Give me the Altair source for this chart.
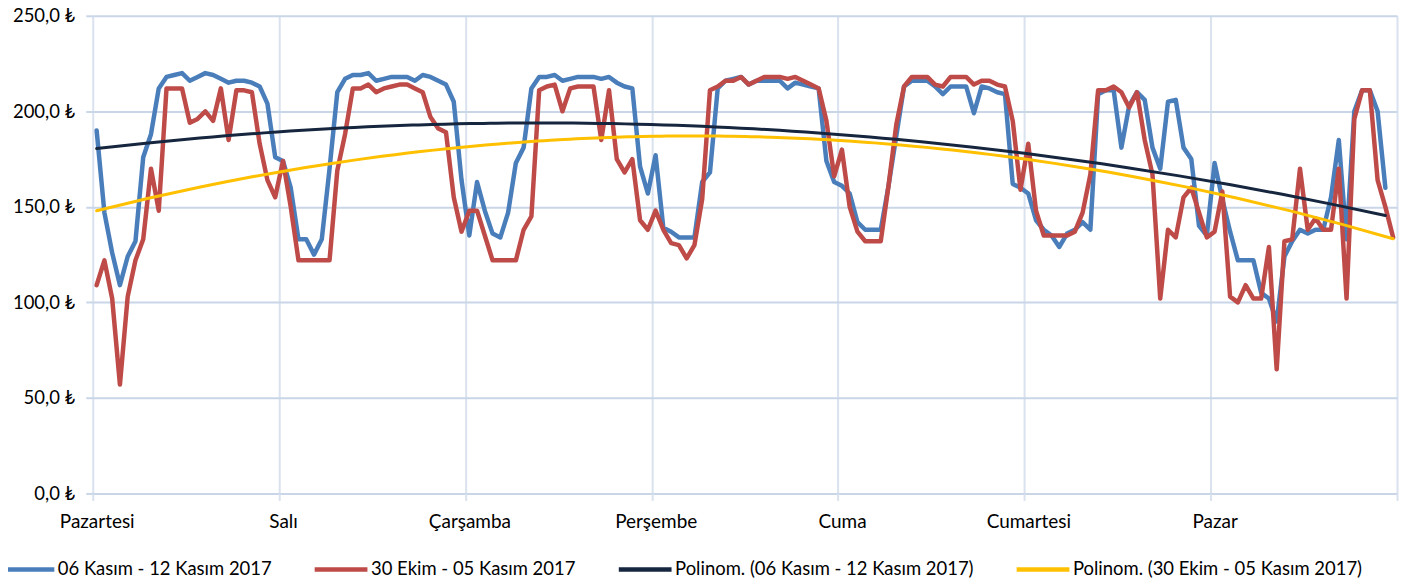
import altair as alt
import pandas as pd

days = ["Pazartesi", "Salı", "Çarşamba", "Perşembe", "Cuma", "Cumartesi", "Pazar"]
series_names = ["06 Kasım - 12 Kasım 2017", "30 Ekim - 05 Kasım 2017"]
trend_names = ["Polinom. (06 Kasım - 12 Kasım 2017)", "Polinom. (30 Ekim - 05 Kasım 2017)"]
colors = ["#4A7EBB", "#BE4B48", "#16263F", "#FFC000"]
y_ticks = [0, 50, 100, 150, 200, 250]

# hourly values, 06 Kasım - 12 Kasım 2017 (last hour missing)
week_nov06 = [
    190, 147, 126, 109, 124, 132, 176, 188, 212, 218, 219, 220, 216, 218, 220, 219, 217, 215, 216, 216, 215, 213, 204, 176,
    174, 160, 133, 133, 125, 133, 170, 210, 217, 219, 219, 220, 216, 217, 218, 218, 218, 216, 219, 218, 216, 214, 205, 164,
    135, 163, 148, 136, 134, 147, 173, 181, 212, 218, 218, 219, 216, 217, 218, 218, 218, 217, 218, 215, 213, 212, 171, 157,
    177, 139, 137, 134, 134, 134, 163, 168, 212, 216, 217, 218, 214, 216, 216, 216, 216, 212, 215, 214, 213, 212, 174, 163,
    161, 157, 142, 138, 138, 138, 161, 187, 213, 216, 216, 216, 213, 209, 213, 213, 213, 199, 213, 212, 210, 209, 162, 160,
    157, 143, 138, 135, 129, 136, 138, 142, 138, 209, 211, 211, 181, 203, 210, 206, 181, 170, 205, 206, 181, 175, 140, 135,
    173, 154, 137, 122, 122, 122, 105, 102, 90, 124, 132, 138, 136, 138, 138, 155, 185, 133, 200, 211, 211, 200, 160,
]
# hourly values, 30 Ekim - 05 Kasım 2017
week_oct30 = [
    109, 122, 102, 57, 103, 122, 133, 170, 148, 212, 212, 212, 194, 196, 200, 195, 212, 185, 211, 211, 210, 183, 164, 155,
    174, 150, 122, 122, 122, 122, 122, 169, 188, 212, 212, 214, 210, 212, 213, 214, 214, 212, 210, 197, 191, 189, 155, 137,
    148, 148, 135, 122, 122, 122, 122, 138, 145, 211, 213, 214, 200, 212, 213, 213, 213, 185, 211, 175, 168, 175, 143, 138,
    148, 138, 131, 130, 123, 130, 154, 211, 213, 216, 216, 218, 214, 216, 218, 218, 218, 217, 218, 216, 214, 212, 195, 166,
    180, 150, 137, 132, 132, 132, 161, 193, 213, 218, 218, 218, 214, 213, 218, 218, 218, 214, 216, 216, 214, 213, 195, 159,
    183, 148, 135, 135, 135, 135, 137, 147, 167, 211, 211, 213, 210, 202, 210, 185, 167, 102, 138, 134, 155, 160, 147, 134,
    137, 158, 103, 100, 109, 102, 102, 129, 65, 132, 133, 170, 138, 144, 138, 138, 170, 102, 196, 211, 211, 164, 150, 134,
]

rows = []
for name, vals in zip(series_names, [week_nov06, week_oct30]):
    for h, v in enumerate(vals):
        rows.append({"saat": h, "deger": v, "seri": name})
df = pd.DataFrame(rows)

FONT = "Lato"
FS = 19
legend_order = [series_names[0], series_names[1], trend_names[0], trend_names[1]]

day_expr = "[" + ",".join("'" + d + "'" for d in days) + ",''][datum.value / 24]"

x_enc = alt.X(
    "xc:Q",
    scale=alt.Scale(domain=[0, 168], nice=False, zero=False),
    axis=alt.Axis(
        values=[24 * k for k in range(8)],
        labelExpr=day_expr,
        labelOffset=4,
        labelAngle=0,
        labelAlign="center",
        labelFlush=False,
        labelFont=FONT,
        labelFontSize=FS,
        labelColor="#000000",
        labelPadding=12,
        grid=True,
        gridColor="#D9E2EE",
        gridWidth=2,
        ticks=True,
        tickSize=7,
        tickColor="#D9E2EE",
        tickWidth=2,
        domain=False,
        title=None,
    ),
)
y_enc = alt.Y(
    "deger:Q",
    scale=alt.Scale(domain=[0, 250], nice=False),
    axis=alt.Axis(
        values=y_ticks,
        labelExpr="replace(format(datum.value, '.1f'), '.', ',') + ' ₺'",
        labelFont=FONT,
        labelFontSize=18.5,
        labelColor="#000000",
        labelPadding=11,
        grid=True,
        gridColor="#C9D6E7",
        gridWidth=2,
        ticks=True,
        tickSize=7,
        tickColor="#C9D6E7",
        tickWidth=2,
        domain=False,
        title=None,
    ),
)
color_enc = alt.Color(
    "etiket:N",
    scale=alt.Scale(domain=legend_order, range=colors),
    legend=alt.Legend(
        title=None,
        orient="none",
        legendX=-94,
        legendY=526,
        padding=0,
        direction="horizontal",
        columns=4,
        columnPadding=33,
        symbolType="stroke",
        symbolSize=2800,
        symbolStrokeWidth=4.5,
        labelFont=FONT,
        labelFontSize=18.5,
        labelColor="#000000",
        labelOffset=1,
        labelLimit=600,
    ),
)

base = alt.Chart(df).transform_calculate(xc="datum.saat + 0.5")

layers = []
for name in series_names:
    layers.append(
        base.transform_filter(alt.datum.seri == name)
        .transform_calculate(etiket="datum.seri")
        .mark_line(strokeWidth=4.5, strokeJoin="round", strokeCap="round")
        .encode(x=x_enc, y=y_enc, color=color_enc)
    )
for name in series_names:
    layers.append(
        base.transform_filter(alt.datum.seri == name)
        .transform_regression("xc", "deger", method="poly", order=2, groupby=["seri"])
        .transform_calculate(etiket="'Polinom. (' + datum.seri + ')'")
        .mark_line(strokeWidth=3, strokeCap="round")
        .encode(x=x_enc, y=y_enc, color=color_enc)
    )

chart = (
    alt.layer(*layers)
    .properties(
        width=1308,
        height=479,
        autosize=alt.AutoSizeParams(type="none"),
        padding={"left": 85, "top": 7, "right": 5, "bottom": 85},
    )
    .configure_view(stroke=None)
)

chart.save("out.html", embed_options={"renderer": "svg", "actions": False})
